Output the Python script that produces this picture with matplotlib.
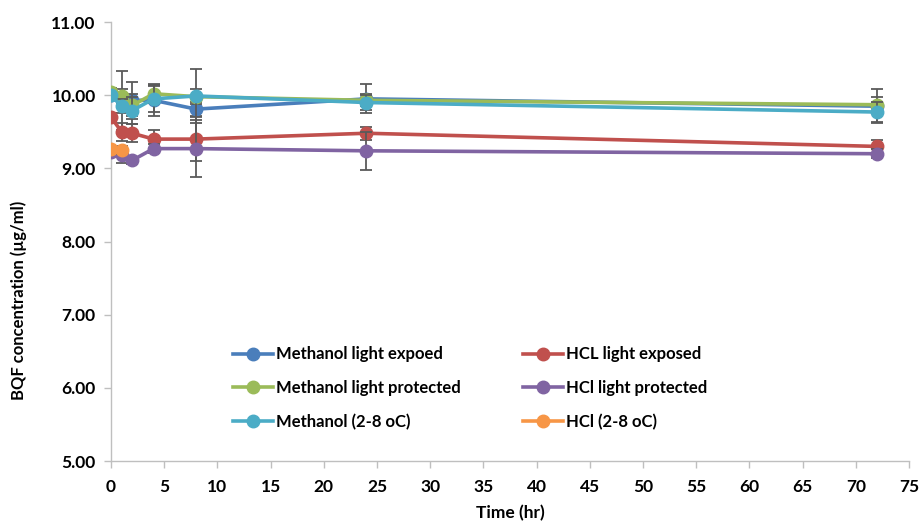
import matplotlib.pyplot as plt
import numpy as np

plt.rcParams['font.family'] = ['Lato', 'DejaVu Sans']

# Time points (hr)
t = [0, 1, 2, 4, 8, 24, 72]
t_hcl_cold = [0, 1]

# BQF concentration (ug/ml)
meoh_exposed = [10.00, 9.93, 9.93, 9.93, 9.81, 9.95, 9.85]
meoh_protected = [10.05, 9.99, 9.86, 10.02, 9.98, 9.93, 9.87]
meoh_cold = [10.00, 9.85, 9.79, 9.95, 9.99, 9.90, 9.77]
hcl_exposed = [9.70, 9.50, 9.48, 9.40, 9.40, 9.48, 9.30]
hcl_protected = [9.23, 9.18, 9.11, 9.27, 9.27, 9.24, 9.20]
hcl_cold = [9.26, 9.25]

# error bars (estimated)
err_meoh_exposed = [0.06, 0.40, 0.25, 0.22, 0.10, 0.20, 0.23]
err_meoh_protected = [0.05, 0.10, 0.15, 0.12, 0.10, 0.08, 0.10]
err_meoh_cold = [0.04, 0.10, 0.18, 0.18, 0.37, 0.10, 0.14]
err_hcl_exposed = [0.06, 0.12, 0.12, 0.12, 0.30, 0.09, 0.09]
err_hcl_protected = [0.04, 0.10, 0.05, 0.06, 0.39, 0.26, 0.06]
err_hcl_cold = [0.04, 0.05]

series = [
    (t, meoh_exposed, err_meoh_exposed, '#4A7EBB', 'Methanol light expoed'),
    (t, meoh_protected, err_meoh_protected, '#9BBB59', 'Methanol light protected'),
    (t, meoh_cold, err_meoh_cold, '#4BACC6', 'Methanol (2-8 oC)'),
    (t, hcl_exposed, err_hcl_exposed, '#C0504D', 'HCL light exposed'),
    (t, hcl_protected, err_hcl_protected, '#8064A2', 'HCl light protected'),
    (t_hcl_cold, hcl_cold, err_hcl_cold, '#F79646', 'HCl (2-8 oC)'),
]

fig = plt.figure(figsize=(9.21, 5.25), dpi=100)
ax = fig.add_axes([0.1205, 0.1219, 0.8665, 0.8361])

handles = []
for i, (x, y, e, c, lab) in enumerate(series):
    ax.errorbar(x, y, yerr=e, fmt='none', ecolor='#5a5a5a', elinewidth=1.3,
                capsize=4, capthick=1.3, zorder=2 + 2 * i)
    h, = ax.plot(x, y, '-o', color=c, lw=2.6, ms=9, label=lab, zorder=3 + 2 * i)
    handles.append(h)

ax.set_xlim(0, 75)
ax.set_ylim(5, 11)
ax.set_xticks(np.arange(0, 76, 5))
ax.set_yticks(np.arange(5, 11.01, 1))
ax.set_yticklabels(['%.2f' % v for v in np.arange(5, 11.01, 1)])

for s in ['top', 'right']:
    ax.spines[s].set_visible(False)
for s in ['left', 'bottom']:
    ax.spines[s].set_color('#bfbfbf')
    ax.spines[s].set_linewidth(1)
ax.tick_params(colors='#bfbfbf', length=5, width=1, labelcolor='black',
               labelsize=12.5)
ax.tick_params(axis='x', pad=8)
ax.tick_params(axis='y', pad=6)
for lbl in ax.get_xticklabels() + ax.get_yticklabels():
    lbl.set_fontweight('bold')

ax.set_xlabel('Time (hr)', fontsize=12.5, fontweight='bold')
ax.set_ylabel('BQF concentration (\u00b5g/ml)', fontsize=12, fontweight='bold')
ax.xaxis.set_label_coords(0.5, -0.1)
ax.yaxis.set_label_coords(-0.105, 0.365)

leg = ax.legend(handles=handles, ncol=2, frameon=False, loc='center',
                bbox_to_anchor=(0.45, 0.166), prop={'size': 12, 'weight': 'bold'},
                handlelength=2.4, columnspacing=3.75, labelspacing=1.05,
                handletextpad=0.2)

fig.savefig('out.png', dpi=100)
